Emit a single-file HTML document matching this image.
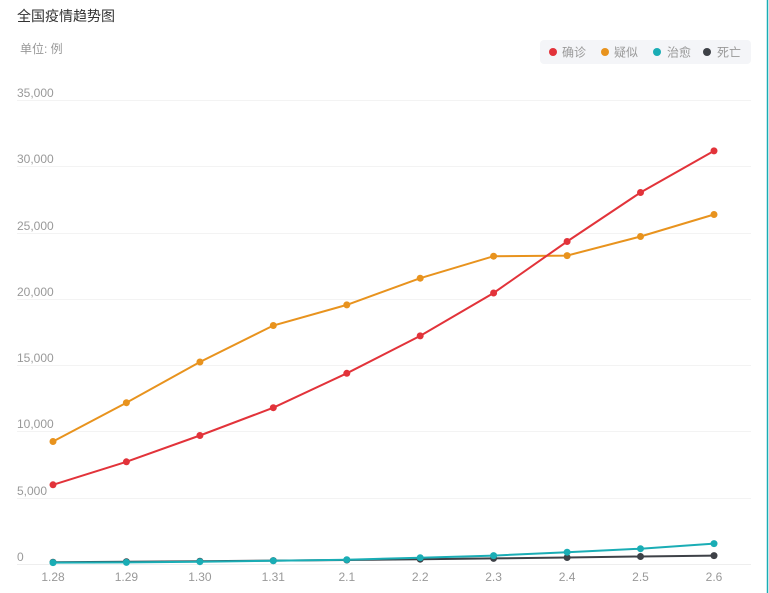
<!DOCTYPE html>
<html><head><meta charset="utf-8"><style>
html,body{margin:0;padding:0;background:#fff;}
body{width:769px;height:593px;overflow:hidden;position:relative;font-family:"Liberation Sans","Noto Sans CJK SC",sans-serif;}
svg{position:absolute;left:0;top:0;}
</style></head><body>
<svg width="769" height="593" viewBox="0 0 769 593" xmlns="http://www.w3.org/2000/svg" font-family="Liberation Sans, Noto Sans CJK SC, sans-serif">
<rect x="0" y="0" width="769" height="593" fill="#fff"/>
<line x1="767.5" y1="0" x2="767.5" y2="593" stroke="#1aadb5" stroke-width="1.5"/>
<text x="17" y="21" font-size="14" fill="#333">全国疫情趋势图</text>
<text x="20" y="53" font-size="12" fill="#999">单位: 例</text>
<rect x="540" y="40" width="211" height="24" rx="4" fill="#f4f5f8"/>
<circle cx="553" cy="52" r="4" fill="#e2333a"/><text x="562" y="56.5" font-size="12" fill="#999">确诊</text>
<circle cx="605" cy="52" r="4" fill="#e8931e"/><text x="614" y="56.5" font-size="12" fill="#999">疑似</text>
<circle cx="657" cy="52" r="4" fill="#1aadb5"/><text x="667" y="56.5" font-size="12" fill="#999">治愈</text>
<circle cx="707" cy="52" r="4" fill="#3e4147"/><text x="717" y="56.5" font-size="12" fill="#999">死亡</text>
<g stroke="#f3f3f3" stroke-width="1">
<line x1="17" y1="100.5" x2="751" y2="100.5"/>
<line x1="17" y1="166.5" x2="751" y2="166.5"/>
<line x1="17" y1="233.5" x2="751" y2="233.5"/>
<line x1="17" y1="299.5" x2="751" y2="299.5"/>
<line x1="17" y1="365.5" x2="751" y2="365.5"/>
<line x1="17" y1="431.5" x2="751" y2="431.5"/>
<line x1="17" y1="498.5" x2="751" y2="498.5"/>
</g>
<line x1="17" y1="564.5" x2="751" y2="564.5" stroke="#eeeeee" stroke-width="1"/>
<g font-size="12" fill="#999">
<text x="17" y="97">35,000</text>
<text x="17" y="163">30,000</text>
<text x="17" y="230">25,000</text>
<text x="17" y="296">20,000</text>
<text x="17" y="362">15,000</text>
<text x="17" y="428">10,000</text>
<text x="17" y="495">5,000</text>
<text x="17" y="561">0</text>
</g>
<g font-size="12" fill="#999" text-anchor="middle">
<text x="53" y="581">1.28</text>
<text x="126.4" y="581">1.29</text>
<text x="199.9" y="581">1.30</text>
<text x="273.3" y="581">1.31</text>
<text x="346.8" y="581">2.1</text>
<text x="420.2" y="581">2.2</text>
<text x="493.6" y="581">2.3</text>
<text x="567.1" y="581">2.4</text>
<text x="640.5" y="581">2.5</text>
<text x="714" y="581">2.6</text>
</g>
<!-- orange -->
<polyline fill="none" stroke="#e8931e" stroke-width="2" points="53,441.5 126.4,402.7 199.9,362 273.3,325.5 346.8,304.9 420.2,278.2 493.6,256.2 567.1,255.6 640.5,236.5 714,214.5"/>
<g fill="#e8931e">
<circle cx="53" cy="441.5" r="3.5"/><circle cx="126.4" cy="402.7" r="3.5"/><circle cx="199.9" cy="362" r="3.5"/><circle cx="273.3" cy="325.5" r="3.5"/><circle cx="346.8" cy="304.9" r="3.5"/><circle cx="420.2" cy="278.2" r="3.5"/><circle cx="493.6" cy="256.2" r="3.5"/><circle cx="567.1" cy="255.6" r="3.5"/><circle cx="640.5" cy="236.5" r="3.5"/><circle cx="714" cy="214.5" r="3.5"/>
</g>
<!-- red -->
<polyline fill="none" stroke="#e2333a" stroke-width="2" points="53,484.8 126.4,461.8 199.9,435.5 273.3,407.7 346.8,373.3 420.2,335.9 493.6,293 567.1,241.5 640.5,192.5 714,150.9"/>
<g fill="#e2333a">
<circle cx="53" cy="484.8" r="3.5"/><circle cx="126.4" cy="461.8" r="3.5"/><circle cx="199.9" cy="435.5" r="3.5"/><circle cx="273.3" cy="407.7" r="3.5"/><circle cx="346.8" cy="373.3" r="3.5"/><circle cx="420.2" cy="335.9" r="3.5"/><circle cx="493.6" cy="293" r="3.5"/><circle cx="567.1" cy="241.5" r="3.5"/><circle cx="640.5" cy="192.5" r="3.5"/><circle cx="714" cy="150.9" r="3.5"/>
</g>
<!-- black -->
<polyline fill="none" stroke="#3e4147" stroke-width="2" points="53,562.2 126.4,561.7 199.9,561.2 273.3,560.6 346.8,560 420.2,559.2 493.6,558.4 567.1,557.5 640.5,556.5 714,555.6"/>
<g fill="#3e4147">
<circle cx="53" cy="562.2" r="3.5"/><circle cx="126.4" cy="561.7" r="3.5"/><circle cx="199.9" cy="561.2" r="3.5"/><circle cx="273.3" cy="560.6" r="3.5"/><circle cx="346.8" cy="560" r="3.5"/><circle cx="420.2" cy="559.2" r="3.5"/><circle cx="493.6" cy="558.4" r="3.5"/><circle cx="567.1" cy="557.5" r="3.5"/><circle cx="640.5" cy="556.5" r="3.5"/><circle cx="714" cy="555.6" r="3.5"/>
</g>
<!-- teal -->
<polyline fill="none" stroke="#1aadb5" stroke-width="2" points="53,562.6 126.4,562.4 199.9,561.7 273.3,560.8 346.8,559.7 420.2,557.7 493.6,555.6 567.1,552.2 640.5,548.7 714,543.6"/>
<g fill="#1aadb5">
<circle cx="53" cy="562.6" r="3.5"/><circle cx="126.4" cy="562.4" r="3.5"/><circle cx="199.9" cy="561.7" r="3.5"/><circle cx="273.3" cy="560.8" r="3.5"/><circle cx="346.8" cy="559.7" r="3.5"/><circle cx="420.2" cy="557.7" r="3.5"/><circle cx="493.6" cy="555.6" r="3.5"/><circle cx="567.1" cy="552.2" r="3.5"/><circle cx="640.5" cy="548.7" r="3.5"/><circle cx="714" cy="543.6" r="3.5"/>
</g>
</svg>
</body></html>
